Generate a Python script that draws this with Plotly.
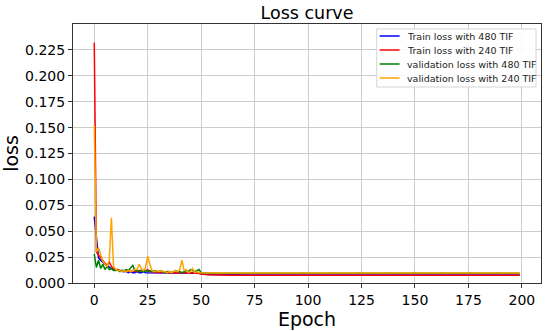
import plotly.graph_objects as go

epochs = list(range(200))

train_480 = [
    0.064, 0.040, 0.024, 0.022, 0.020, 0.018, 0.017, 0.015, 0.014, 0.013,
    0.013, 0.012, 0.012, 0.011, 0.011, 0.011, 0.010, 0.011, 0.010, 0.010,
    0.011, 0.010, 0.010, 0.011, 0.010, 0.010, 0.010, 0.010, 0.0095, 0.010,
    0.0098, 0.0096, 0.0099, 0.0095, 0.0097, 0.0094, 0.0096, 0.0095, 0.0098, 0.0094,
    0.0096, 0.0095, 0.0093, 0.0096, 0.0094, 0.0095, 0.0093, 0.0094, 0.0095, 0.0093,
    0.0087, 0.0084, 0.0083, 0.0082, 0.0081, 0.0081, 0.0080, 0.0080, 0.0079, 0.0080,
    0.0079, 0.0080, 0.0079, 0.0078, 0.0079, 0.0079, 0.0078, 0.0079, 0.0078, 0.0078,
    0.0079, 0.0078, 0.0078, 0.0077, 0.0078, 0.0078, 0.0079, 0.0078, 0.0077, 0.0078,
    0.0078, 0.0077, 0.0078, 0.0078, 0.0077, 0.0078, 0.0077, 0.0078, 0.0078, 0.0077,
    0.0078, 0.0077, 0.0078, 0.0077, 0.0077, 0.0078, 0.0073, 0.0077, 0.0078, 0.0077,
    0.0077, 0.0078, 0.0077, 0.0077, 0.0072, 0.0077, 0.0078, 0.0077, 0.0077, 0.0078,
    0.0077, 0.0077, 0.0078, 0.0077, 0.0077, 0.0073, 0.0077, 0.0078, 0.0077, 0.0077,
    0.0077, 0.0078, 0.0077, 0.0077, 0.0077, 0.0078, 0.0077, 0.0077, 0.0072, 0.0077,
    0.0077, 0.0078, 0.0077, 0.0077, 0.0077, 0.0077, 0.0078, 0.0077, 0.0077, 0.0077,
    0.0077, 0.0077, 0.0078, 0.0077, 0.0077, 0.0077, 0.0073, 0.0077, 0.0077, 0.0077,
    0.0078, 0.0077, 0.0077, 0.0077, 0.0077, 0.0077, 0.0078, 0.0077, 0.0077, 0.0077,
    0.0077, 0.0077, 0.0077, 0.0078, 0.0077, 0.0077, 0.0077, 0.0077, 0.0077, 0.0077,
    0.0077, 0.0078, 0.0077, 0.0077, 0.0077, 0.0077, 0.0077, 0.0077, 0.0078, 0.0077,
    0.0077, 0.0077, 0.0077, 0.0077, 0.0077, 0.0078, 0.0077, 0.0077, 0.0077, 0.0077,
    0.0077, 0.0077, 0.0077, 0.0077, 0.0078, 0.0077, 0.0077, 0.0077, 0.0077, 0.0077,
]

train_240 = [
    0.232, 0.030, 0.027, 0.024, 0.021, 0.019, 0.017, 0.020, 0.016, 0.014,
    0.013, 0.013, 0.012, 0.012, 0.011, 0.012, 0.011, 0.011, 0.012, 0.011,
    0.011, 0.012, 0.012, 0.011, 0.012, 0.013, 0.011, 0.011, 0.010, 0.011,
    0.010, 0.010, 0.011, 0.010, 0.010, 0.010, 0.0092, 0.010, 0.010, 0.0093,
    0.010, 0.010, 0.0093, 0.010, 0.0092, 0.010, 0.0098, 0.0092, 0.0093, 0.0091,
    0.0086, 0.0083, 0.0081, 0.0080, 0.0079, 0.0079, 0.0078, 0.0078, 0.0077, 0.0077,
    0.0077, 0.0076, 0.0076, 0.0076, 0.0075, 0.0076, 0.0075, 0.0075, 0.0075, 0.0076,
    0.0075, 0.0075, 0.0075, 0.0074, 0.0075, 0.0075, 0.0075, 0.0074, 0.0075, 0.0075,
    0.0074, 0.0075, 0.0075, 0.0074, 0.0075, 0.0074, 0.0075, 0.0074, 0.0075, 0.0074,
    0.0074, 0.0075, 0.0074, 0.0074, 0.0075, 0.0074, 0.0074, 0.0074, 0.0075, 0.0074,
    0.0074, 0.0074, 0.0074, 0.0075, 0.0074, 0.0074, 0.0074, 0.0074, 0.0074, 0.0074,
    0.0075, 0.0074, 0.0074, 0.0074, 0.0074, 0.0074, 0.0074, 0.0074, 0.0074, 0.0074,
    0.0074, 0.0074, 0.0074, 0.0074, 0.0074, 0.0074, 0.0074, 0.0074, 0.0074, 0.0074,
    0.0074, 0.0074, 0.0074, 0.0074, 0.0074, 0.0074, 0.0074, 0.0074, 0.0074, 0.0074,
    0.0074, 0.0074, 0.0074, 0.0074, 0.0074, 0.0074, 0.0074, 0.0074, 0.0074, 0.0074,
    0.0074, 0.0074, 0.0074, 0.0074, 0.0074, 0.0074, 0.0074, 0.0074, 0.0074, 0.0074,
    0.0074, 0.0074, 0.0074, 0.0074, 0.0074, 0.0074, 0.0074, 0.0074, 0.0074, 0.0074,
    0.0074, 0.0074, 0.0074, 0.0074, 0.0074, 0.0074, 0.0074, 0.0074, 0.0074, 0.0074,
    0.0074, 0.0074, 0.0074, 0.0074, 0.0074, 0.0074, 0.0074, 0.0074, 0.0074, 0.0074,
    0.0074, 0.0074, 0.0074, 0.0074, 0.0074, 0.0074, 0.0074, 0.0074, 0.0074, 0.0074,
]

val_480 = [
    0.028, 0.015, 0.022, 0.014, 0.018, 0.013, 0.016, 0.013, 0.014, 0.012,
    0.012, 0.013, 0.011, 0.012, 0.012, 0.013, 0.012, 0.014, 0.017, 0.012,
    0.012, 0.011, 0.012, 0.011, 0.012, 0.011, 0.012, 0.011, 0.012, 0.011,
    0.011, 0.012, 0.011, 0.010, 0.011, 0.011, 0.010, 0.011, 0.012, 0.011,
    0.011, 0.010, 0.011, 0.012, 0.011, 0.013, 0.012, 0.011, 0.012, 0.013,
    0.0098, 0.0095, 0.0094, 0.0095, 0.0093, 0.0094, 0.0095, 0.0093, 0.0094, 0.0093,
    0.0094, 0.0093, 0.0095, 0.0093, 0.0094, 0.0093, 0.0093, 0.0095, 0.0093, 0.0094,
    0.0093, 0.0096, 0.0093, 0.0094, 0.0093, 0.0095, 0.0093, 0.0094, 0.0093, 0.0093,
    0.0095, 0.0093, 0.0094, 0.0093, 0.0096, 0.0093, 0.0094, 0.0093, 0.0095, 0.0093,
    0.0093, 0.0094, 0.0093, 0.0095, 0.0093, 0.0094, 0.0093, 0.0096, 0.0093, 0.0094,
    0.0093, 0.0095, 0.0093, 0.0094, 0.0093, 0.0093, 0.0095, 0.0093, 0.0094, 0.0093,
    0.0096, 0.0093, 0.0094, 0.0093, 0.0095, 0.0093, 0.0094, 0.0093, 0.0093, 0.0095,
    0.0093, 0.0094, 0.0093, 0.0096, 0.0093, 0.0094, 0.0093, 0.0095, 0.0093, 0.0094,
    0.0093, 0.0093, 0.0095, 0.0093, 0.0094, 0.0093, 0.0096, 0.0093, 0.0094, 0.0093,
    0.0095, 0.0093, 0.0094, 0.0093, 0.0093, 0.0095, 0.0093, 0.0094, 0.0093, 0.0096,
    0.0093, 0.0094, 0.0093, 0.0095, 0.0093, 0.0094, 0.0093, 0.0093, 0.0095, 0.0093,
    0.0094, 0.0093, 0.0096, 0.0093, 0.0094, 0.0093, 0.0095, 0.0093, 0.0094, 0.0093,
    0.0093, 0.0095, 0.0093, 0.0094, 0.0093, 0.0096, 0.0093, 0.0094, 0.0093, 0.0095,
    0.0093, 0.0094, 0.0093, 0.0093, 0.0095, 0.0093, 0.0094, 0.0093, 0.0096, 0.0093,
    0.0094, 0.0093, 0.0095, 0.0093, 0.0094, 0.0093, 0.0093, 0.0095, 0.0093, 0.0094,
]

val_240 = [
    0.152, 0.030, 0.034, 0.027, 0.021, 0.018, 0.016, 0.022, 0.063, 0.016,
    0.013, 0.012, 0.012, 0.011, 0.012, 0.011, 0.012, 0.011, 0.012, 0.013,
    0.013, 0.018, 0.014, 0.012, 0.015, 0.026, 0.018, 0.012, 0.011, 0.012,
    0.011, 0.012, 0.011, 0.011, 0.010, 0.011, 0.010, 0.011, 0.012, 0.011,
    0.013, 0.022, 0.012, 0.013, 0.010, 0.011, 0.014, 0.010, 0.011, 0.010,
    0.0099, 0.0097, 0.0096, 0.0097, 0.0096, 0.0097, 0.0096, 0.0097, 0.0096, 0.0097,
    0.0097, 0.0096, 0.0097, 0.0096, 0.0097, 0.0097, 0.0096, 0.0097, 0.0096, 0.0097,
    0.0096, 0.0097, 0.0098, 0.0096, 0.0097, 0.0096, 0.0097, 0.0097, 0.0096, 0.0097,
    0.0096, 0.0097, 0.0096, 0.0097, 0.0097, 0.0096, 0.0098, 0.0096, 0.0097, 0.0096,
    0.0097, 0.0097, 0.0096, 0.0097, 0.0096, 0.0097, 0.0096, 0.0097, 0.0097, 0.0096,
    0.0097, 0.0096, 0.0097, 0.0096, 0.0097, 0.0097, 0.0096, 0.0097, 0.0096, 0.0097,
    0.0096, 0.0097, 0.0097, 0.0096, 0.0097, 0.0096, 0.0097, 0.0096, 0.0097, 0.0097,
    0.0096, 0.0097, 0.0096, 0.0097, 0.0096, 0.0097, 0.0097, 0.0096, 0.0097, 0.0096,
    0.0097, 0.0096, 0.0097, 0.0097, 0.0096, 0.0097, 0.0096, 0.0097, 0.0096, 0.0097,
    0.0097, 0.0096, 0.0097, 0.0096, 0.0097, 0.0096, 0.0097, 0.0097, 0.0096, 0.0097,
    0.0096, 0.0097, 0.0096, 0.0097, 0.0097, 0.0096, 0.0097, 0.0096, 0.0097, 0.0096,
    0.0097, 0.0097, 0.0096, 0.0097, 0.0096, 0.0097, 0.0096, 0.0097, 0.0097, 0.0096,
    0.0097, 0.0096, 0.0097, 0.0096, 0.0097, 0.0097, 0.0096, 0.0097, 0.0096, 0.0097,
    0.0096, 0.0097, 0.0097, 0.0096, 0.0097, 0.0096, 0.0097, 0.0096, 0.0097, 0.0097,
    0.0096, 0.0097, 0.0096, 0.0097, 0.0096, 0.0097, 0.0097, 0.0096, 0.0097, 0.0096,
]

series_names = ["Train loss with 480 TIF", "Train loss with 240 TIF",
                "validation loss with 480 TIF", "validation loss with 240 TIF"]
series_values = [train_480, train_240, val_480, val_240]
series_colors = ["#0000ff", "#ff0000", "#008000", "#ffa500"]

x_ticks = [0, 25, 50, 75, 100, 125, 150, 175, 200]
y_ticks = [0.0, 0.025, 0.05, 0.075, 0.1, 0.125, 0.15, 0.175, 0.2, 0.225]
y_tick_labels = ["0.000", "0.025", "0.050", "0.075", "0.100", "0.125",
                 "0.150", "0.175", "0.200", "0.225"]

FONT = "DejaVu Sans"
W, H = 550, 331
ML, MR, MT, MB = 72, 8, 24, 48
PW, PH = W - ML - MR, H - MT - MB

def px_x(p):
    return (p - ML) / PW

def px_y(p):
    return (H - MB - p) / PH

fig = go.Figure()
for name, vals, color in zip(series_names, series_values, series_colors):
    fig.add_trace(go.Scatter(x=epochs, y=vals, mode="lines", name=name,
                             line=dict(color=color, width=1.5),
                             showlegend=False))

axis_common = dict(
    showline=True, linecolor="#333333", linewidth=1, mirror=True,
    ticks="outside", ticklen=4, tickcolor="#333333",
    showgrid=True, gridcolor="#cccccc", gridwidth=1,
    zeroline=False,
    tickfont=dict(family=FONT, size=14, color="black"),
)

# Manual legend (matplotlib-like compact layout)
shapes = [dict(type="rect", xref="paper", yref="paper",
               x0=px_x(377), x1=px_x(537), y0=px_y(87), y1=px_y(29),
               line=dict(color="#d5d5d5", width=1),
               fillcolor="rgba(255,255,255,0.85)", layer="above")]
annotations = []
row_y = [36, 50, 64, 78]
for ry, name, color in zip(row_y, series_names, series_colors):
    shapes.append(dict(type="line", xref="paper", yref="paper",
                       x0=px_x(380), x1=px_x(400), y0=px_y(ry), y1=px_y(ry),
                       line=dict(color=color, width=1.5), layer="above"))
    annotations.append(dict(text=name, xref="paper", yref="paper",
                            x=px_x(405), y=px_y(ry), xanchor="left",
                            yanchor="middle", showarrow=False,
                            font=dict(family=FONT, size=9.5, color="#222222")))

fig.update_layout(
    width=W, height=H,
    margin=dict(l=ML, r=MR, t=MT, b=MB),
    paper_bgcolor="white", plot_bgcolor="white",
    title=dict(text="Loss curve", x=0.5, xanchor="center", xref="paper",
               y=0.962, yanchor="middle",
               font=dict(family=FONT, size=17.5, color="black")),
    xaxis=dict(range=[-9.95, 208.95], tickvals=x_ticks,
               title=dict(text="Epoch", standoff=2,
                          font=dict(family=FONT, size=19, color="black")),
               **axis_common),
    yaxis=dict(range=[0, 0.25], tickvals=y_ticks, ticktext=y_tick_labels,
               title=dict(text="loss", standoff=4,
                          font=dict(family=FONT, size=19, color="black")),
               **axis_common),
    shapes=shapes,
    annotations=annotations,
    showlegend=False,
)

fig.write_html("out.html",
               config={"displayModeBar": False},
               post_script="document.body.style.margin='0';document.body.style.padding='0';")
